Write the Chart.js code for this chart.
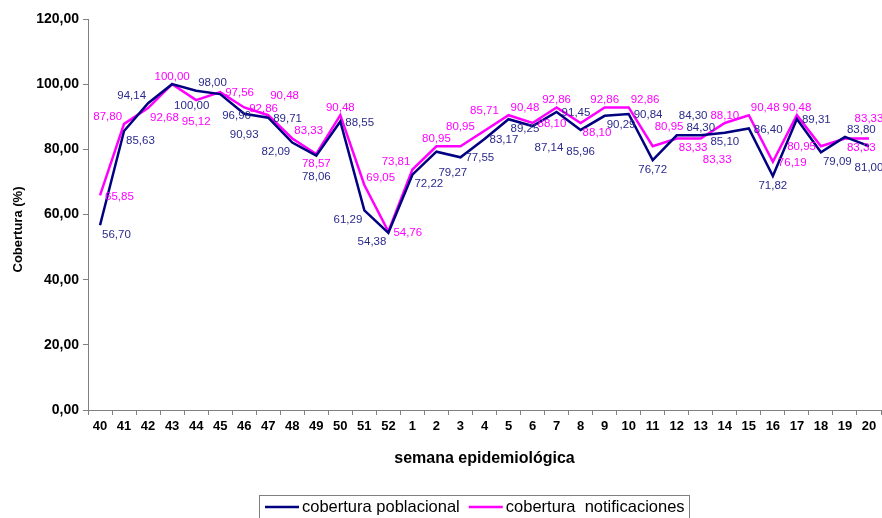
<!DOCTYPE html>
<html>
<head>
<meta charset="utf-8">
<script src="https://cdn.jsdelivr.net/npm/chart.js@4.4.0/dist/chart.umd.min.js"></script>
<style>
  html, body { margin: 0; padding: 0; background: #fff; }
  #wrap { width: 882px; height: 518px; }
</style>
</head>
<body>
<div id="wrap"><canvas id="chart" width="882" height="518"></canvas></div>
<script>
// semanas epidemiologicas (40-52 de un año, 1-20 del siguiente)
const semanas = ['40', '41', '42', '43', '44', '45', '46', '47', '48', '49', '50', '51', '52',
  '1', '2', '3', '4', '5', '6', '7', '8', '9', '10', '11', '12', '13', '14', '15', '16', '17', '18', '19', '20'];

const poblacional = [56.70, 85.63, 94.14, 100.00, 98.00, 96.96, 90.93, 89.71, 82.09, 78.06, 88.55, 61.29, 54.38,
  72.22, 79.27, 77.55, 83.17, 89.25, 87.14, 91.45, 85.96, 90.29, 90.84, 76.72, 84.30, 84.30, 85.10, 86.40, 71.82, 89.31, 79.09, 83.80, 81.00];

const notificaciones = [65.85, 87.80, 92.68, 100.00, 95.12, 97.56, 92.86, 90.48, 83.33, 78.57, 90.48, 69.05, 54.76,
  73.81, 80.95, 80.95, 85.71, 90.48, 88.10, 92.86, 88.10, 92.86, 92.86, 80.95, 83.33, 83.33, 88.10, 90.48, 76.19, 90.48, 80.95, 83.33, 83.33];

const yTicks = [0, 20, 40, 60, 80, 100, 120];

const FONT = '"Liberation Sans", Arial, sans-serif';
const lineColors = ['#000080', '#FF00FF'];
const labelColors = ['#2a2a8c', '#FF00FF'];

const fmt = v => v.toFixed(2).replace('.', ',');

// greedy placement of the value labels: try a few spots round each point and
// keep the one that covers the least of the lines and of the labels already placed
function placeLabels(chart) {
  const ctx = chart.ctx;
  const series = [poblacional, notificaciones];
  const pts = [0, 1].map(k => chart.getDatasetMeta(k).data.map(p => ({ x: p.x, y: p.y })));
  const samples = [];
  pts.forEach(arr => {
    for (let i = 0; i < arr.length - 1; i++) {
      const a = arr[i], b = arr[i + 1];
      const n = Math.ceil(Math.hypot(b.x - a.x, b.y - a.y));
      for (let j = 0; j <= n; j++) samples.push({ x: a.x + (b.x - a.x) * j / n, y: a.y + (b.y - a.y) * j / n });
    }
  });
  const placed = [];
  const out = [];
  const h = 9, g = 4;
  semanas.forEach((s, i) => {
    const upper = notificaciones[i] >= poblacional[i] ? 1 : 0;
    [upper, 1 - upper].forEach(k => {
      const p = pts[k][i];
      const txt = fmt(series[k][i]);
      const w = ctx.measureText(txt).width;
      const dir = k === upper ? -1 : 1;
      const near = dir * (g + h / 2);
      const cands = [
        [0, near],
        [w / 2 + 2, near],
        [-(w / 2 + 2), near],
        [w / 2 + 5, 0],
        [-(w / 2 + 5), 0],
        [0, near + dir * (h + 3)],
        [w / 2 + 2, near + dir * (h + 3)],
        [-(w / 2 + 2), near + dir * (h + 3)],
        [0, -near],
        [w / 2 + 2, -near],
        [-(w / 2 + 2), -near]
      ];
      let best = null;
      cands.forEach((c, ci) => {
        const cx = p.x + c[0], cy = p.y + c[1];
        const r = { l: cx - w / 2 - 1, r: cx + w / 2 + 1, t: cy - h / 2 - 2, b: cy + h / 2 + 2 };
        let cost = ci * 3;
        samples.forEach(q => {
          if (q.x >= r.l && q.x <= r.r && q.y >= r.t && q.y <= r.b) cost += 1;
        });
        placed.forEach(o => {
          const ox = Math.max(0, Math.min(r.r, o.r) - Math.max(r.l, o.l));
          const oy = Math.max(0, Math.min(r.b, o.b) - Math.max(r.t, o.t));
          cost += ox * oy * 0.6;
        });
        if (r.r > chart.width + 3 || r.l < chart.chartArea.left + 2) cost += 1000;
        if (!best || cost < best.cost) best = { cost, cx, cy, r };
      });
      placed.push(best.r);
      out.push({ k, txt, x: best.cx, y: best.cy });
    });
  });
  return out;
}

const pointLabels = {
  id: 'pointLabels',
  afterDatasetsDraw(chart) {
    const ctx = chart.ctx;
    ctx.save();
    ctx.font = '11.5px ' + FONT;
    ctx.textAlign = 'center';
    ctx.textBaseline = 'middle';
    placeLabels(chart).forEach(l => {
      ctx.fillStyle = labelColors[l.k];
      ctx.fillText(l.txt, l.x, l.y + 1);
    });
    ctx.restore();
  }
};

// y title drawn by hand so it sits where the spreadsheet put it
const yTitle = {
  id: 'yTitle',
  afterDraw(chart) {
    const ctx = chart.ctx;
    const a = chart.chartArea;
    ctx.save();
    ctx.translate(18, (a.top + a.bottom) / 2 + 15);
    ctx.rotate(-Math.PI / 2);
    ctx.font = 'bold 13px ' + FONT;
    ctx.fillStyle = '#000';
    ctx.textAlign = 'center';
    ctx.textBaseline = 'middle';
    ctx.fillText('Cobertura (%)', 0, 0);
    ctx.restore();
  }
};

// legend inside a grey frame, like the spreadsheet one
const boxLegend = {
  id: 'boxLegend',
  afterDraw(chart) {
    const ctx = chart.ctx;
    const ds = chart.data.datasets;
    ctx.save();
    ctx.font = '16.5px ' + FONT;
    const sample = 34, gap = 3, between = 9, padL = 6, padR = 4;
    const widths = ds.map(d => ctx.measureText(d.label).width);
    const total = padL + widths.reduce((s, w) => s + sample + gap + w, 0) + between * (ds.length - 1) + padR;
    const cx = (chart.chartArea.left + chart.chartArea.right) / 2 - 11;
    let x = Math.round(cx - total / 2);
    const top = chart.height - 23;
    ctx.strokeStyle = '#7f7f7f';
    ctx.lineWidth = 1;
    ctx.strokeRect(x + 0.5, top + 0.5, Math.round(total), 30);
    const y = top + 12;
    x += padL;
    ds.forEach((d, i) => {
      ctx.strokeStyle = d.borderColor;
      ctx.lineWidth = 2.5;
      ctx.beginPath();
      ctx.moveTo(x, y);
      ctx.lineTo(x + sample, y);
      ctx.stroke();
      x += sample + gap;
      ctx.fillStyle = '#000';
      ctx.textBaseline = 'middle';
      ctx.textAlign = 'left';
      ctx.fillText(d.label, x, y);
      x += widths[i] + between;
    });
    ctx.restore();
  }
};

new Chart(document.getElementById('chart'), {
  type: 'line',
  data: {
    labels: semanas,
    datasets: [
      {
        label: 'cobertura poblacional',
        data: poblacional,
        borderColor: lineColors[0],
        backgroundColor: lineColors[0],
        borderWidth: 2.5,
        pointRadius: 0,
        tension: 0
      },
      {
        label: 'cobertura  notificaciones',
        data: notificaciones,
        borderColor: lineColors[1],
        backgroundColor: lineColors[1],
        borderWidth: 2.5,
        pointRadius: 0,
        tension: 0
      }
    ]
  },
  options: {
    responsive: false,
    animation: false,
    devicePixelRatio: 1,
    layout: { padding: { top: 19, right: 1, left: 0, bottom: 46 } },
    plugins: {
      legend: { display: false },
      tooltip: { enabled: false }
    },
    scales: {
      x: {
        offset: true,
        grid: { offset: true, drawOnChartArea: false, tickLength: 5, color: '#808080' },
        border: { color: '#808080', width: 1 },
        ticks: { color: '#000', font: { family: FONT, size: 13, weight: 'bold' }, padding: 4, maxRotation: 0, autoSkip: false },
        title: {
          display: true,
          text: 'semana epidemiológica',
          color: '#000',
          font: { family: FONT, size: 16, weight: 'bold' },
          padding: { top: 0, bottom: 4 }
        },
        afterFit(s) { s.height = 62; }
      },
      y: {
        min: 0,
        max: 120,
        afterBuildTicks(s) { s.ticks = yTicks.map(v => ({ value: v })); },
        grid: { drawOnChartArea: false, tickLength: 5, color: '#808080' },
        border: { color: '#808080', width: 1 },
        ticks: { color: '#000', font: { family: FONT, size: 14, weight: 'bold' }, padding: 4, callback: v => fmt(v) },
        afterFit(s) { s.width = 88; }
      }
    }
  },
  plugins: [pointLabels, yTitle, boxLegend]
});
</script>
</body>
</html>
